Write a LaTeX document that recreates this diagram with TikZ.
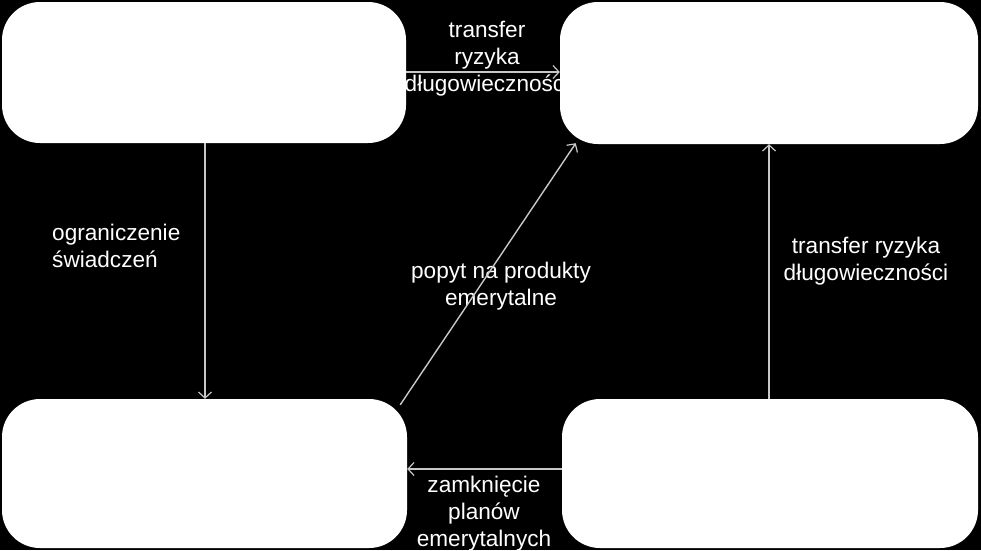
\documentclass[tikz,border=0pt]{standalone}
\usepackage{fontspec}
\setmainfont{Liberation Sans}
\usetikzlibrary{arrows.meta}
\definecolor{linegray}{RGB}{200,200,200}
\tikzset{
  box/.style={fill=white, draw=none, rounded corners=38pt, inner sep=0pt},
  arr/.style={draw=linegray, line width=1.4pt, -{Straight Barb[length=6pt,width=13pt,line width=1.2pt]}},
  lbl/.style={text=white, font=\fontsize{22.6}{27}\selectfont, inner sep=0pt},
}
\begin{document}
\begin{tikzpicture}[x=1pt,y=-1pt]
\fill[black] (0,0) rectangle (981,550);
\useasboundingbox (0,0) rectangle (981,550);
% labels (drawn before boxes so that the box hides the overflow)
\node[lbl, align=center] (l1) at (487,59) {transfer\\ryzyka\\długowieczności};
\node[lbl, align=left, anchor=west] (l2) at (52,246) {ograniczenie\\świadczeń};
\node[lbl, align=center] (l3) at (501,286) {popyt na produkty\\emerytalne};
\node[lbl, align=center] (l4) at (866,261) {transfer ryzyka\\długowieczności};
\node[lbl, align=center] (l5) at (484,514) {zamknięcie\\planów\\emerytalnych};
% boxes
\path[box] (2,2) rectangle (406,143);
\path[box] (560,2) rectangle (978,144);
\path[box] (2,399) rectangle (407,548);
\path[box] (562,399) rectangle (978,548);
\node[minimum width=404pt, minimum height=141pt, inner sep=0pt] (tl) at (204,72.5) {};
\node[minimum width=418pt, minimum height=142pt, inner sep=0pt] (tr) at (769,73) {};
\node[minimum width=405pt, minimum height=149pt, inner sep=0pt] (bl) at (204.5,473.5) {};
\node[minimum width=416pt, minimum height=149pt, inner sep=0pt] (br) at (770,473.5) {};
% connector guides
\coordinate (xl) at (205,0);
\coordinate (xr) at (769,0);
\coordinate (yt) at (0,72);
\coordinate (yb) at (0,469);
% connectors
\draw[arr] (tl.east |- yt) -- (tr.west |- yt);
\draw[arr] (tl.south -| xl) -- (bl.north -| xl);
\draw[arr] (br.north -| xr) -- (tr.south -| xr);
\draw[arr] (br.west |- yb) -- (bl.east |- yb);
\draw[arr] ([shift={(-7,6)}]bl.north east) -- ([shift={(16,-1)}]tr.south west);
\end{tikzpicture}
\end{document}
